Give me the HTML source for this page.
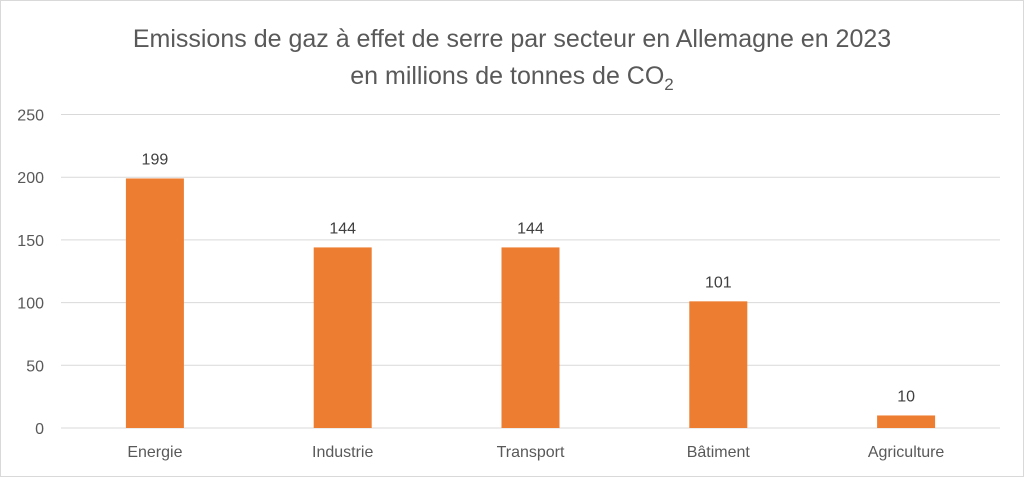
<!DOCTYPE html>
<html><head><meta charset="utf-8"><style>
body{margin:0;background:#fff}
svg{display:block;font-family:"Liberation Sans",sans-serif}
</style></head><body>
<svg width="1024" height="477">
<rect x="0.5" y="0.5" width="1023" height="476" fill="#fff" stroke="#d9d9d9"/>
<text x="512" y="47" text-anchor="middle" font-size="25" fill="#595959">Emissions de gaz à effet de serre par secteur en Allemagne en 2023</text>
<text x="512" y="84" text-anchor="middle" font-size="25" fill="#595959">en millions de tonnes de CO<tspan font-size="17" dy="6">2</tspan></text>
<g id="grid"></g><g id="bars"></g><g id="labels"></g>
</svg>
<script>
const categories=["Energie","Industrie","Transport","Bâtiment","Agriculture"];
const values=[199,144,144,101,10];
const yTicks=[0,50,100,150,200,250];
const ns="http://www.w3.org/2000/svg";
const L=61,R=1000,Y0=428,Y1=114.5,MAX=250;
const y=v=>Y0-(v/MAX)*(Y0-Y1);
const band=(R-L)/categories.length;
const xc=i=>L+band*(i+0.5);
function mk(t,a,p){const e=document.createElementNS(ns,t);for(const k in a)e.setAttribute(k,a[k]);p.appendChild(e);return e;}
const g=document.getElementById('grid'),b=document.getElementById('bars'),lb=document.getElementById('labels');
yTicks.forEach(t=>{
 const ln=mk('line',{x1:L,x2:R,y1:y(t),y2:y(t),stroke:'#d9d9d9','stroke-width':1},g);
 
 
 const tx=mk('text',{x:44,y:y(t)+6,'text-anchor':'end','font-size':16,fill:'#595959'},g);
 tx.textContent=t;
 
 
});
const bw=58;
categories.forEach((c,i)=>{
 const r=mk('rect',{x:xc(i)-bw/2,y:y(values[i]),width:bw,height:Y0-y(values[i]),fill:'#ed7d31'},b);
 
 
 const v=mk('text',{x:xc(i),y:y(values[i])-14,'text-anchor':'middle','font-size':16,fill:'#404040'},lb);
 v.textContent=values[i];
 
 
 const cl=mk('text',{x:xc(i),y:457,'text-anchor':'middle','font-size':16,fill:'#595959'},lb);
 cl.textContent=c;
 
 
});
</script>
</body></html>
